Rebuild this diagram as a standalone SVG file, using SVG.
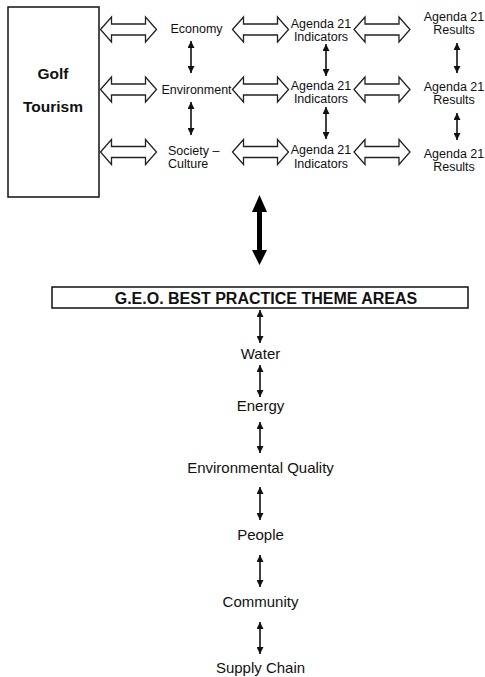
<svg xmlns="http://www.w3.org/2000/svg" width="485" height="677" viewBox="0 0 485 677">
<style>
text{font-family:"Liberation Sans",Arial,sans-serif;fill:#111}
.s{font-size:12.5px;text-anchor:middle}
.st{font-size:12.5px}
.b{font-size:15px;text-anchor:middle}
.bold{font-weight:bold}
.box{fill:#fff;stroke:#111;stroke-width:1.5}
.blk{fill:#fff;stroke:#222;stroke-width:1.3;stroke-linejoin:miter}
.thin{stroke:#111;stroke-width:1.6;fill:none;marker-start:url(#ah);marker-end:url(#ah)}
</style>
<defs>
<marker id="ah" viewBox="0 0 7 7" refX="7" refY="3.5" markerWidth="7" markerHeight="7" markerUnits="userSpaceOnUse" orient="auto-start-reverse">
<path d="M0,0 L7,3.5 L0,7 Z" fill="#111"/>
</marker>
<path id="blk" d="M0,0 L11,-12.5 L11,-5.5 L45,-5.5 L45,-12.5 L56,0 L45,12.5 L45,5.5 L11,5.5 L11,12.5 Z"/>
</defs>
<rect width="485" height="677" fill="#fff"/>

<g id="golf-tourism">
<rect class="box" x="8" y="7" width="91" height="190"/>
<text class="bold" x="53" y="78.5" font-size="15.5" text-anchor="middle">Golf</text>
<text class="bold" x="53" y="112" font-size="15.5" text-anchor="middle">Tourism</text>
</g>

<g id="economy"><text class="s" x="196.5" y="33">Economy</text></g>
<g id="environment"><text class="s" x="196.5" y="94">Environment</text></g>
<g id="society-culture"><text class="st" x="168" y="154.5">Society –</text><text class="st" x="168" y="168">Culture</text></g>

<g id="indicators-1"><text class="s" x="321" y="27.5">Agenda 21</text><text class="s" x="321" y="41">Indicators</text></g>
<g id="indicators-2"><text class="s" x="321" y="89.5">Agenda 21</text><text class="s" x="321" y="103">Indicators</text></g>
<g id="indicators-3"><text class="s" x="321" y="154">Agenda 21</text><text class="s" x="321" y="167.5">Indicators</text></g>

<g id="results-1"><text class="s" x="454" y="20.5">Agenda 21</text><text class="s" x="454" y="34">Results</text></g>
<g id="results-2"><text class="s" x="454" y="90.5">Agenda 21</text><text class="s" x="454" y="104">Results</text></g>
<g id="results-3"><text class="s" x="454" y="157.5">Agenda 21</text><text class="s" x="454" y="171">Results</text></g>

<g id="geo-theme-areas">
<rect class="box" x="52" y="287" width="416" height="21"/>
<text class="bold" x="266" y="304" font-size="16" text-anchor="middle">G.E.O. BEST PRACTICE THEME AREAS</text>
</g>

<g id="water"><text class="b" x="260.5" y="359">Water</text></g>
<g id="energy"><text class="b" x="260.5" y="411">Energy</text></g>
<g id="environmental-quality"><text class="b" x="260.5" y="473">Environmental Quality</text></g>
<g id="people"><text class="b" x="260.5" y="540">People</text></g>
<g id="community"><text class="b" x="260.5" y="607">Community</text></g>
<g id="supply-chain"><text class="b" x="260.5" y="673">Supply Chain</text></g>

<g id="connectors">
<use href="#blk" class="blk" transform="translate(100.5,29.5)"/>
<use href="#blk" class="blk" transform="translate(100.5,89.5)"/>
<use href="#blk" class="blk" transform="translate(100.5,152)"/>
<use href="#blk" class="blk" transform="translate(232.5,29.5)"/>
<use href="#blk" class="blk" transform="translate(232.5,89.5)"/>
<use href="#blk" class="blk" transform="translate(232.5,152)"/>
<use href="#blk" class="blk" transform="translate(354,29.5)"/>
<use href="#blk" class="blk" transform="translate(354,89.5)"/>
<use href="#blk" class="blk" transform="translate(354,152)"/>

<line class="thin" x1="191" y1="41" x2="191" y2="73"/>
<line class="thin" x1="191" y1="102" x2="191" y2="135"/>
<line class="thin" x1="326" y1="44" x2="326" y2="76"/>
<line class="thin" x1="326" y1="107" x2="326" y2="139"/>
<line class="thin" x1="457" y1="43" x2="457" y2="73"/>
<line class="thin" x1="457" y1="113" x2="457" y2="140"/>

<polygon points="259.5,195 267,212 262,212 262,250 267,250 259.5,265 252,250 257,250 257,212 252,212" fill="#000"/>

<line class="thin" x1="260" y1="310" x2="260" y2="343"/>
<line class="thin" x1="260" y1="365" x2="260" y2="397"/>
<line class="thin" x1="260" y1="422" x2="260" y2="453"/>
<line class="thin" x1="260" y1="487" x2="260" y2="520"/>
<line class="thin" x1="260" y1="555" x2="260" y2="587"/>
<line class="thin" x1="260" y1="622" x2="260" y2="654"/>
</g>
</svg>
